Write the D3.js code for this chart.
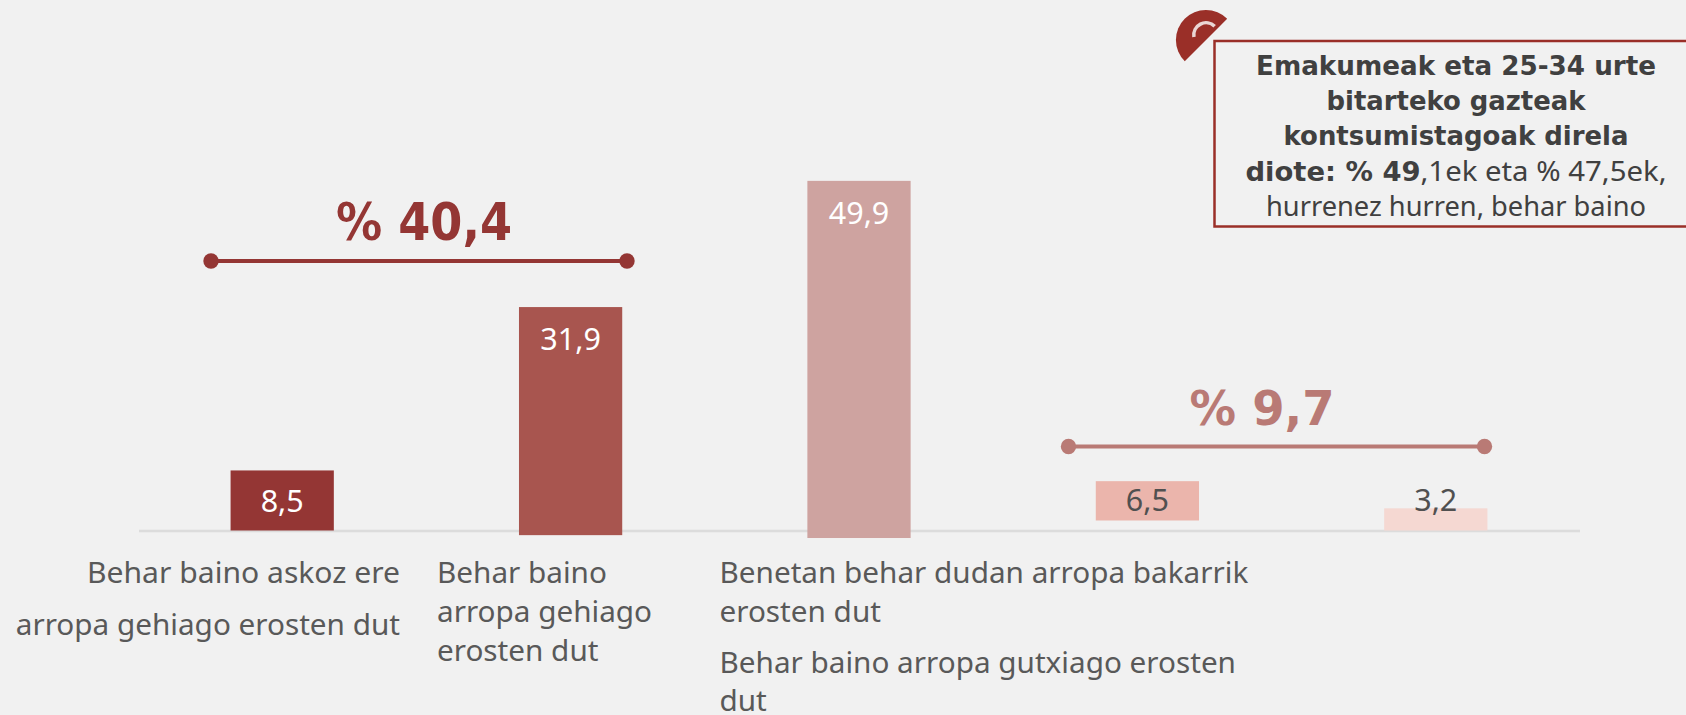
<!DOCTYPE html>
<html><head><meta charset="utf-8">
<script src="https://cdn.jsdelivr.net/npm/d3@7/dist/d3.min.js"></script>
<style>html,body{margin:0;padding:0;background:#f1f1f1;overflow:hidden}svg{display:block}</style>
</head><body><div id="c"></div>
<script>
const categories = ["A","B","C","D","E"];
const values = [8.5,31.9,49.9,6.5,3.2];
const valueLabels = ["8,5","31,9","49,9","6,5","3,2"];
const barBottom = [0,-0.65,-1.05,1.4,0];
const barTop = [8.4,31.25,48.9,6.9,3.1];
const barColors = ["#943634","#a8554f","#cea3a0","#ebb5ac","#f5d8d2"];
const labelColors = ["#ffffff","#ffffff","#ffffff","#505050","#505050"];
const labelOffsets = [42,42.5,43,30,3];
const groupLabels = ["% 40,4","% 9,7"];
const groupColors = ["#943634","#b97a75"];

const W=1686,H=715,BOLD='"DejaVu Sans",sans-serif',BODY='"Noto Sans",sans-serif';
const svg=d3.select("#c").append("svg").attr("width",W).attr("height",H);
svg.append("rect").attr("width",W).attr("height",H).attr("fill","#f1f1f1");
const x=d3.scaleBand().domain(categories).range([138,1580]).paddingInner(0.642).paddingOuter(0.321);
const y=d3.scaleLinear().domain([0,50]).range([530.5,173]);

svg.append("line").attr("x1",139).attr("x2",1580).attr("y1",531).attr("y2",531).attr("stroke","#dcdcdc").attr("stroke-width",2.5);

svg.selectAll("rect.bar").data(categories).join("rect").attr("class","bar")
 .attr("x",d=>x(d)).attr("width",x.bandwidth())
 .attr("y",(d,i)=>y(barTop[i])).attr("height",(d,i)=>y(barBottom[i])-y(barTop[i]))
 .attr("fill",(d,i)=>barColors[i]);

svg.selectAll("text.val").data(categories).join("text").attr("class","val")
 .attr("x",d=>x(d)+x.bandwidth()/2).attr("y",(d,i)=>y(barTop[i])+labelOffsets[i])
 .attr("text-anchor","middle").attr("fill",(d,i)=>labelColors[i])
 .style("font-family",BODY).style("font-size","30.5px").text((d,i)=>valueLabels[i]);

// group brackets
const groups=[{yLine:261,yText:240,cx:424,size:51,len:176},{yLine:446.5,yText:425,cx:1262,size:48,len:145}];
const bx=[[211,627],[1068.5,1484.5]];
groups.forEach((g,i)=>{
 const c=groupColors[i];
 svg.append("line").attr("x1",bx[i][0]).attr("x2",bx[i][1]).attr("y1",g.yLine).attr("y2",g.yLine).attr("stroke",c).attr("stroke-width",4);
 bx[i].forEach(px=>svg.append("circle").attr("cx",px).attr("cy",g.yLine).attr("r",7.7).attr("fill",c));
 svg.append("text").attr("x",g.cx).attr("y",g.yText).attr("text-anchor","middle")
  .attr("textLength",g.len).attr("lengthAdjust","spacingAndGlyphs")
  .attr("fill",c).style("font-family",BOLD).style("font-weight","700").style("font-size",g.size+"px").text(groupLabels[i]);
});

// category labels
const catLines=[
 {a:"end",x:400,t:["Behar baino askoz ere","arropa gehiago erosten dut"],y:[583,635]},
 {a:"start",x:437,t:["Behar baino","arropa gehiago","erosten dut"],y:[583,622,661]},
 {a:"start",x:719.5,t:["Benetan behar dudan arropa bakarrik","erosten dut"],y:[583,622]},
 {a:"start",x:719.5,t:["Behar baino arropa gutxiago erosten","dut"],y:[673,711]}
];
catLines.forEach(c=>c.t.forEach((s,i)=>{
 const t=svg.append("text").attr("x",c.x).attr("y",c.y[i]).attr("text-anchor",c.a)
 .attr("fill","#595959").style("font-family",BODY).style("font-size","29.7px").text(s);
 if(s==="Behar baino askoz ere") t.attr("textLength",313).attr("lengthAdjust","spacingAndGlyphs");
}));

// icon
const ig=svg.append("g").attr("transform","translate(1206,40)");
ig.append("path").attr("d",d3.arc()({innerRadius:0,outerRadius:30,startAngle:-Math.PI*0.75,endAngle:Math.PI*0.25})).attr("fill","#9a2f28");
const ig2=ig.append("g").attr("transform","translate(0,-5)");
ig2.append("path").attr("d",d3.arc()({innerRadius:10.5,outerRadius:14,startAngle:-Math.PI*0.55,endAngle:Math.PI*0.25})).attr("fill","#ead6d4");

// callout
svg.append("rect").attr("x",1214.5).attr("y",41).attr("width",520).attr("height",185.5).attr("fill","#f1f1f1").attr("stroke","#9a2f28").attr("stroke-width",2.5);
const calloutRuns=[
 {s:"Emakumeak eta 25-34 urte",b:1,x:1456,a:"middle",y:75,len:400},
 {s:"bitarteko gazteak",b:1,x:1456,a:"middle",y:110,len:259},
 {s:"kontsumistagoak direla",b:1,x:1456,a:"middle",y:145,len:345},
 {s:"diote: % 49",b:1,x:1245.5,a:"start",y:181,len:175},
 {s:",1ek eta % 47,5ek,",b:0,x:1420.5,a:"start",y:181,len:246},
 {s:"hurrenez hurren, behar baino",b:0,x:1456,a:"middle",y:216,len:380}
];
calloutRuns.forEach(r=>svg.append("text").attr("x",r.x).attr("y",r.y).attr("text-anchor",r.a)
 .attr("textLength",r.len).attr("lengthAdjust","spacingAndGlyphs").attr("fill","#404040")
 .style("font-family",r.b?BOLD:BODY).style("font-weight",r.b?700:400).style("font-size",r.b?"27.4px":"27.4px").text(r.s));
</script></body></html>
